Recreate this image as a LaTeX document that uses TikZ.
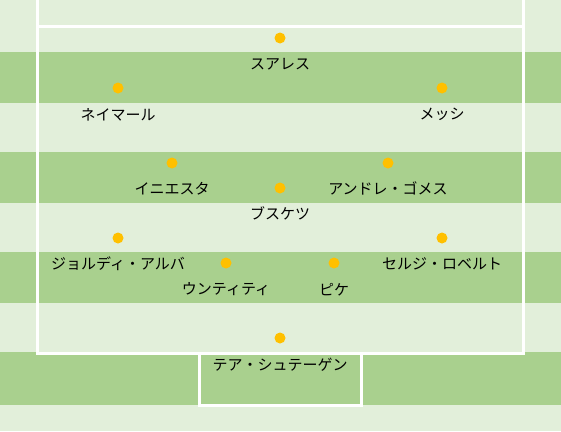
\documentclass[tikz,border=0pt]{standalone}
\usepackage{fontspec}
\newfontfamily\jpfont{Noto Sans CJK JP}
\usetikzlibrary{positioning}
\definecolor{lawnlight}{HTML}{E2EFDA}
\definecolor{lawndark}{HTML}{A9D08E}
\definecolor{dotgold}{HTML}{FFC000}

\begin{document}
\begin{tikzpicture}[x=1pt,y=-1pt,
  player/.style={circle,fill=dotgold,inner sep=0pt,minimum size=11pt},
  pname/.style={font=\jpfont\fontsize{15}{17}\selectfont,inner sep=0pt},
  chalk/.style={white,line width=3pt}]
\useasboundingbox (0,0) rectangle (561,431);
% turf
\fill[lawnlight] (0,0) rectangle (561,431);
\foreach \y in {52,152,252}
  \fill[lawndark] (0,\y) rectangle (561,\y+50.5);
\fill[lawndark] (0,352) rectangle (561,405);
% lines
\draw[chalk] (37.5,0) -- (37.5,353) -- (523.5,353) -- (523.5,0);
\draw[chalk] (37.5,26.5) -- (523.5,26.5);
\draw[chalk] (199.8,353) -- (199.8,405) -- (361.3,405) -- (361.3,353);
% players
\path
(280,38)  node[player] (suarez) {}  +(0,26.5) node[pname] (suarezN) {スアレス}
(118,88)  node[player] (neymar) {}  +(0,26.5) node[pname] (neymarN) {ネイマール}
(442,88)  node[player] (messi) {}   +(0,26.5) node[pname] (messiN) {メッシ}
(172,163) node[player] (iniesta) {} +(0,25.5) node[pname] (iniestaN) {イニエスタ}
(388,163) node[player] (gomes) {}   +(0,25.5) node[pname] (gomesN) {アンドレ・ゴメス}
(280,188) node[player] (busquets) {} +(0,25.5) node[pname] (busquetsN) {ブスケツ}
(118,238) node[player] (alba) {}    +(0,25.5) node[pname] (albaN) {ジョルディ・アルバ}
(442,238) node[player] (roberto) {} +(0,25.5) node[pname] (robertoN) {セルジ・ロベルト}
(226,263) node[player] (umtiti) {}  +(0,26.5) node[pname] (umtitiN) {ウンティティ}
(334,263) node[player] (pique) {}   +(0,26.5) node[pname] (piqueN) {ピケ}
(280,338) node[player] (stegen) {}  +(0,26.5) node[pname] (stegenN) {テア・シュテーゲン};
\end{tikzpicture}
\end{document}
